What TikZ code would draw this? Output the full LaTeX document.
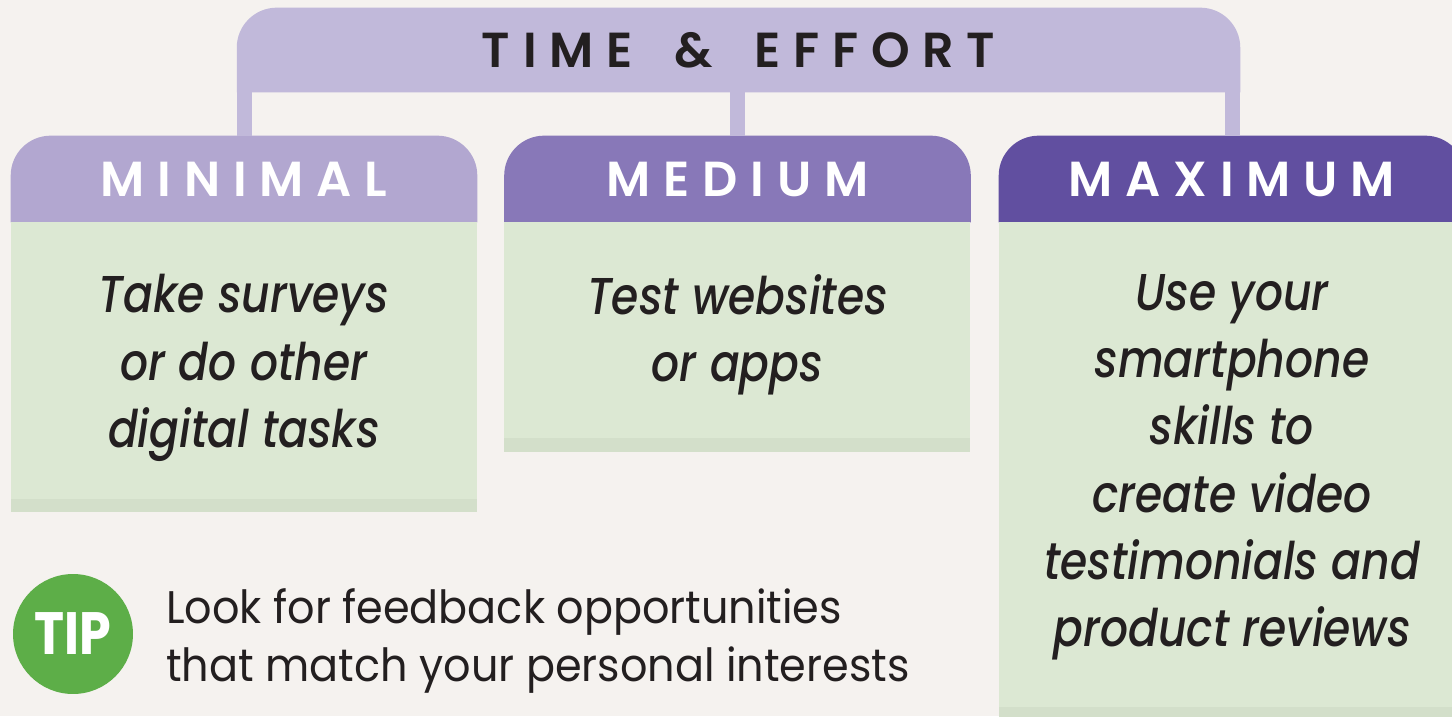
\documentclass[tikz,border=0pt]{standalone}
\usepackage{fontspec}
\setmainfont{Poppins}
\newfontfamily\capsfont{Poppins}[UprightFont=* SemiBold,LetterSpace=26]
\newfontfamily\blurbfont{Poppins}[UprightFont=* Medium Italic,FakeStretch=0.85]
\usetikzlibrary{backgrounds}

\definecolor{paper}{HTML}{F5F2EF}
\definecolor{lilac}{HTML}{C1B9DA}
\definecolor{minpurple}{HTML}{B2A7D0}
\definecolor{medpurple}{HTML}{8878B8}
\definecolor{maxpurple}{HTML}{614FA0}
\definecolor{sage}{HTML}{DCE8D3}
\definecolor{sagedark}{HTML}{D3DFCA}
\definecolor{tipgreen}{HTML}{5DAE48}
\definecolor{ink}{HTML}{231F20}

% tab with round top corners and a square bottom
\newcommand\roundtab[2]{%
  \fill[#2] (#1.south west) -- ([yshift=-0.8cm]#1.north west)
    arc[start angle=180,end angle=90,radius=0.8cm]
    -- ([xshift=-0.8cm]#1.north east)
    arc[start angle=90,end angle=0,radius=0.8cm]
    -- (#1.south east) -- cycle;}

\begin{document}
\begin{tikzpicture}[x=0.02cm,y=-0.02cm,
  spaced/.style={font=\capsfont\fontsize{28}{28}\selectfont},
  head/.style={spaced,inner sep=0pt,text=ink,minimum width=20.06cm,minimum height=1.68cm},
  tab/.style={spaced,inner sep=0pt,text=white,minimum width=9.32cm,minimum height=1.72cm},
  blurb/.style={anchor=north,align=center,inner sep=0pt,text=ink,
    font=\blurbfont\fontsize{29.5}{38.3}\selectfont},
  bar/.style={lilac,line width=0.3cm},
  tipdot/.style={circle,fill=tipgreen,minimum size=2.4cm,inner sep=0pt,text=white,
    font=\fontsize{34}{34}\selectfont\bfseries\addfontfeatures{FakeStretch=0.85}},
  tipnote/.style={anchor=north west,align=left,inner sep=0pt,text=ink,
    font=\fontsize{26}{32.9}\selectfont\addfontfeatures{FakeStretch=0.94}}]
\useasboundingbox (0,0) rectangle (1452,716);

\node[head] (effort) at (738.5,50) {TIME\hspace{0.35em} \&\hspace{0.35em} EFFORT};
\node[tab] (minimal) at (244,179) {MINIMAL};
\node[tab] (medium) at (737.5,179) {MEDIUM};
\node[tab] (maximum) at (1232,179) {MAXIMUM};

\node[blurb] (surveys) at (244,274) {Take surveys\\or do other\\digital tasks};
\node[blurb] (websites) at (737.5,274) {Test websites\\or apps};
\node[blurb] (videos) at (1232,274) {Use your\\smartphone\\skills to\\create video\\testimonials and\\product reviews};

\node[tipdot] (tip) at (73,634) {TIP};
\node[tipnote] (note) at (166,588) {Look for feedback opportunities\\that match your personal interests};

\begin{scope}[on background layer]
  \clip (0,0) rectangle (1452,716);
  \fill[paper] (0,0) rectangle (1452,716);
  \roundtab{effort}{lilac}
  \roundtab{minimal}{minpurple}
  \roundtab{medium}{medpurple}
  \roundtab{maximum}{maxpurple}
  \fill[sage] (minimal.south west) rectangle ++(466,290);
  \fill[sagedark] (minimal.south west) ++(0,277) rectangle ++(466,13);
  \fill[sage] (medium.south west) rectangle ++(466,230);
  \fill[sagedark] (medium.south west) ++(0,216) rectangle ++(466,14);
  \fill[sage] (maximum.south west) rectangle ++(466,500);
  \fill[sagedark] (maximum.south west) ++(0,485) rectangle ++(466,15);
\end{scope}

\draw[bar] (minimal.north) -- (minimal.north |- effort.south);
\draw[bar] (medium.north) -- (medium.north |- effort.south);
\draw[bar] (maximum.north) -- (maximum.north |- effort.south);
\end{tikzpicture}
\end{document}
